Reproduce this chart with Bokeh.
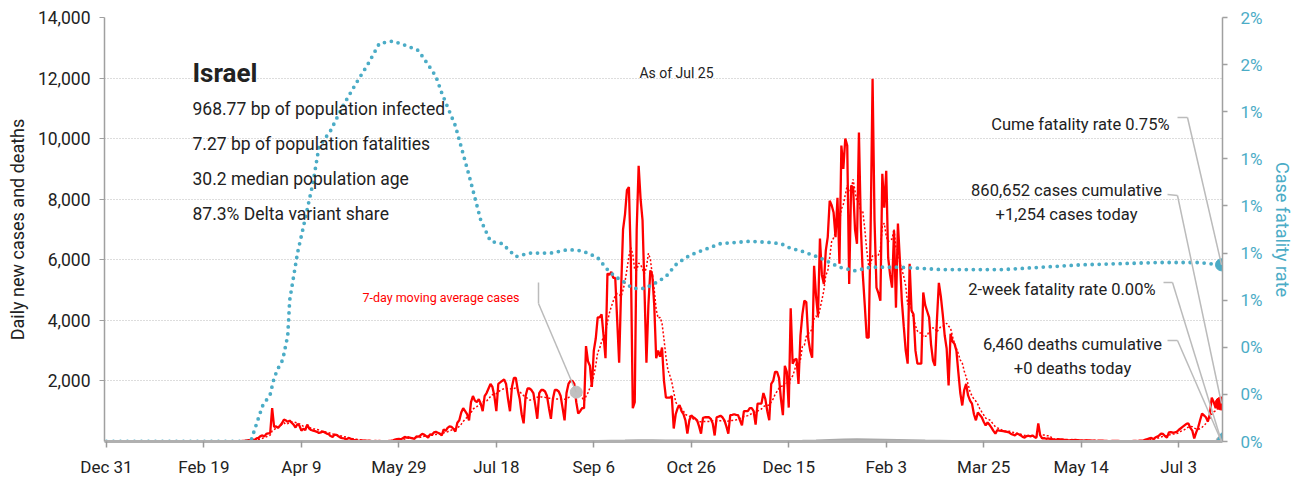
import pandas as pd
from bokeh.plotting import figure
from bokeh.models import Range1d, LinearAxis, FixedTicker, NumeralTickFormatter, Label, Arrow
from bokeh.embed import file_html
from bokeh.resources import INLINE

# ---------------- data ----------------
x_tick_days = [0, 50, 100, 150, 200, 250, 300, 350, 400, 450, 500, 550]
x_tick_labels = ["Dec 31", "Feb 19", "Apr 9", "May 29", "Jul 18", "Sep 6",
                 "Oct 26", "Dec 15", "Feb 3", "Mar 25", "May 14", "Jul 3"]
left_ticks = [2000, 4000, 6000, 8000, 10000, 12000, 14000]
cfr_ticks = [0.0, 0.002, 0.004, 0.006, 0.008, 0.010, 0.012, 0.014, 0.016, 0.018]

# daily new cases, one row per week starting Tue Dec 31 2019
cases_weeks = [
    [0, 0, 0, 0, 0, 0, 0], [0, 0, 0, 0, 0, 0, 0], [0, 0, 0, 0, 0, 0, 0],
    [0, 0, 0, 0, 0, 0, 0], [0, 0, 0, 0, 0, 0, 0], [0, 0, 0, 0, 0, 0, 0],
    [0, 0, 0, 0, 0, 0, 0], [0, 0, 0, 1, 0, 0, 0], [0, 1, 1, 0, 1, 2, 0],
    [3, 3, 2, 4, 5, 10, 9], [20, 25, 35, 45, 40, 60, 50],
    [100, 120, 180, 200, 170, 250, 270], [280, 1100, 480, 500, 450, 520, 600],
    [720, 700, 650, 690, 620, 560, 460], [580, 520, 360, 420, 380, 560, 430],
    [380, 360, 340, 320, 280, 300, 330], [300, 260, 240, 180, 150, 230, 220],
    [170, 130, 110, 100, 70, 110, 100], [70, 40, 50, 30, 20, 40, 30],
    [30, 20, 25, 15, 10, 20, 15], [20, 15, 10, 10, 5, 20, 25],
    [40, 60, 80, 90, 70, 110, 150], [130, 140, 120, 100, 90, 170, 160],
    [200, 250, 230, 180, 130, 240, 220], [300, 320, 290, 260, 200, 400, 350],
    [450, 500, 480, 420, 330, 620, 700], [960, 1100, 1000, 900, 700, 1300, 1500],
    [1350, 1300, 1400, 1250, 1000, 1500, 1600], [1750, 1900, 1800, 1500, 1000, 1900, 1950],
    [2000, 2050, 1900, 1400, 1000, 1800, 2100], [2100, 1700, 1400, 900, 600, 1500, 1750],
    [1750, 1700, 1600, 1200, 750, 1600, 1700], [1700, 1650, 1500, 1100, 750, 1400, 1700],
    [1700, 1650, 1500, 1100, 700, 1600, 1900], [2000, 2000, 1900, 1300, 920, 1000, 1100],
    [1100, 3150, 2650, 2500, 1800, 3000, 3400], [4100, 4100, 4200, 3500, 2750, 5550, 5500],
    [5600, 5400, 5400, 4000, 2600, 5000, 7000], [7500, 8300, 8400, 6000, 1100, 1300, 7000],
    [9100, 8000, 7300, 5000, 2600, 4500, 5650], [5500, 4500, 2750, 3000, 2800, 3100, 2000],
    [1450, 1450, 1450, 1500, 430, 900, 1100], [1200, 1000, 900, 700, 260, 700, 860],
    [800, 760, 700, 500, 260, 780, 800], [800, 800, 750, 600, 200, 800, 820],
    [850, 800, 700, 500, 260, 870, 880], [900, 880, 870, 700, 530, 1000, 1000],
    [1000, 1100, 1100, 1000, 560, 1250, 1250], [1250, 1600, 1400, 1000, 700, 1900, 2000],
    [2300, 2300, 2100, 1400, 870, 2500, 2300], [1120, 4400, 2570, 2700, 2730, 1900, 3500],
    [4200, 4650, 4600, 3400, 3000, 2770, 5800], [4800, 4150, 6700, 5500, 5200, 6300, 6750],
    [7950, 7800, 7560, 6750, 8050, 5870, 9770], [9000, 10000, 9770, 5200, 8450, 8400, 7000],
    [6530, 10200, 7060, 5500, 4500, 3430, 3430], [7000, 11980, 7300, 5080, 4900, 4650, 8840],
    [7720, 8940, 6070, 5500, 5080, 6960, 4420], [7200, 6000, 4650, 3800, 3000, 2570, 5870],
    [4320, 4200, 3000, 2570, 2570, 2570, 4920], [4500, 4300, 4100, 3200, 2670, 2500, 4000],
    [5240, 4800, 4200, 3500, 3070, 1850, 3560], [3300, 3230, 3000, 2280, 1600, 1190, 1700],
    [1900, 1520, 1350, 1250, 900, 700, 960], [880, 800, 650, 530, 630, 550, 460],
    [350, 260, 380, 360, 350, 340, 330], [320, 300, 250, 230, 200, 260, 240],
    [200, 150, 130, 180, 190, 170, 200], [150, 120, 600, 200, 100, 110, 90],
    [100, 90, 80, 60, 40, 80, 70], [70, 60, 55, 50, 30, 50, 45],
    [50, 45, 40, 35, 20, 40, 35], [35, 30, 30, 25, 15, 30, 25],
    [25, 20, 20, 15, 10, 20, 20], [20, 18, 15, 12, 8, 15, 12],
    [15, 12, 20, 18, 10, 25, 30], [40, 60, 80, 100, 120, 80, 130],
    [160, 200, 260, 250, 180, 130, 300], [310, 290, 300, 320, 380, 430, 480],
    [530, 580, 600, 450, 360, 100, 300], [460, 700, 920, 860, 800, 660, 900],
    [1450, 1300, 1100, 1400, 1200, 1254],
]

# cumulative case fatality rate (%), read at these day numbers
cfr_days = [0, 74, 80, 84, 86, 88, 90, 91, 93, 94, 96, 98, 101, 106, 109, 115, 121, 128, 134, 140,
            147, 154, 160, 165, 169, 172, 179, 186, 192, 197, 203, 210, 217, 228, 237, 243, 247, 252, 257, 261,
            265, 270, 276, 281, 287, 292, 297, 302, 315, 330, 340, 346, 351, 356, 366, 376, 384, 392, 407, 428,
            438, 460, 480, 500, 520, 540, 560, 572]
cfr_pct = [0, 0, 0.15, 0.2, 0.27, 0.31, 0.34, 0.37, 0.45, 0.6, 0.7, 0.8, 0.91, 1.10, 1.25, 1.32, 1.42, 1.52, 1.60, 1.69,
           1.70, 1.68, 1.66, 1.60, 1.55, 1.48, 1.34, 1.13, 0.94, 0.85, 0.84, 0.785, 0.80, 0.80, 0.815, 0.81, 0.80, 0.78, 0.73, 0.70,
           0.68, 0.65, 0.65, 0.67, 0.70, 0.75, 0.78, 0.80, 0.84, 0.85, 0.845, 0.84, 0.82, 0.81, 0.78, 0.74, 0.725, 0.74, 0.74, 0.73,
           0.73, 0.73, 0.74, 0.75, 0.755, 0.76, 0.76, 0.75]

# daily deaths, read weekly
death_days = list(range(0, 568, 7)) + [572]
deaths = [0, 0, 0, 0, 0, 0, 0, 0, 0, 0, 0,
          0, 2, 6, 10, 12, 9, 6, 3, 1, 1, 0, 0, 1, 1, 1, 2, 4, 6, 9, 10, 11, 12, 12, 13, 15, 18, 25, 30,
          38, 40, 35, 30, 25, 18, 13, 10, 12, 14, 16, 20, 25, 35, 50, 65, 75, 70, 60, 50, 40, 30, 25, 20,
          15, 10, 7, 5, 4, 3, 2, 1, 1, 1, 1, 1, 0, 0, 1, 1, 1, 1, 1, 0]

country = "Israel"
info_lines = ["968.77 bp of population infected", "7.27 bp of population fatalities",
              "30.2 median population age", "87.3% Delta variant share"]
as_of = "As of Jul 25"
ma_label = "7-day moving average cases"
ma_mark_day = 241
cume_cfr_text = "Cume fatality rate 0.75%"
cases_lines = ["860,652 cases cumulative", "+1,254 cases today"]
two_week_text = "2-week fatality rate 0.00%"
two_week_rate = 0.0
deaths_lines = ["6,460 deaths cumulative", "+0 deaths today"]
deaths_today = 0
y_left_title = "Daily new cases and deaths"
y_right_title = "Case fatality rate"

# ---------------- derived ----------------
cases = [v for wk in cases_weeks for v in wk]
days = list(range(len(cases)))
ma = pd.Series(cases, dtype=float).rolling(7).mean()
cfr = [v / 100.0 for v in cfr_pct]
last_day = days[-1]

FONT = "Roboto"
RED = "#ff0000"
TEAL = "#4bacc6"
GRAY = "#aaaaaa"
TXT = "#222222"

W, H = 1297, 480
FL, FR, FT, FB = 104, 1222, 17, 441   # frame edges in page pixels
p = figure(width=W, height=H, x_range=Range1d(-1, 572.5), y_range=Range1d(0, 14000),
           output_backend="svg", toolbar_location=None,
           min_border_left=FL, min_border_right=W - FR, min_border_top=FT, min_border_bottom=H - FB)
p.outline_line_color = None
p.background_fill_color = "white"
p.extra_y_ranges = {"cfr": Range1d(0, 0.018)}

# axes
xa = p.xaxis[0]
xa.ticker = FixedTicker(ticks=x_tick_days)
xa.major_label_overrides = {d: l for d, l in zip(x_tick_days, x_tick_labels)}
xa.axis_line_color = "#b0b0b0"
xa.axis_line_width = 3
xa.major_tick_line_color = "#999999"
xa.major_tick_line_width = 1.5
xa.major_tick_out = 6
xa.major_tick_in = 0
xa.minor_tick_line_color = None
xa.major_label_standoff = 9
xa.major_label_text_font = FONT
xa.major_label_text_font_size = "17px"
xa.major_label_text_color = TXT

ya = p.yaxis[0]
ya.ticker = FixedTicker(ticks=left_ticks)
ya.formatter = NumeralTickFormatter(format="0,0")
ya.axis_line_color = "#a0a0a0"
ya.axis_line_width = 1.5
ya.major_tick_line_color = "#a0a0a0"
ya.major_tick_out = 5
ya.major_tick_in = 0
ya.minor_tick_line_color = None
ya.major_label_standoff = 9
ya.major_label_text_font = FONT
ya.major_label_text_font_size = "17.5px"
ya.major_label_text_color = TXT
ya.axis_label = y_left_title
ya.axis_label_text_font = FONT
ya.axis_label_text_font_size = "18px"
ya.axis_label_text_font_style = "normal"
ya.axis_label_text_color = TXT
ya.axis_label_standoff = 7

ra = LinearAxis(y_range_name="cfr", ticker=FixedTicker(ticks=cfr_ticks),
                formatter=NumeralTickFormatter(format="0%"))
ra.axis_line_color = "#a0a0a0"
ra.axis_line_width = 1.5
ra.major_tick_line_color = "#a0a0a0"
ra.major_tick_line_width = 1.5
ra.major_tick_out = 5
ra.major_tick_in = 0
ra.minor_tick_line_color = None
ra.major_label_standoff = 13
ra.major_label_text_font = FONT
ra.major_label_text_font_size = "17px"
ra.major_label_text_color = TEAL
ra.axis_label = y_right_title
ra.axis_label_text_font = FONT
ra.axis_label_text_font_size = "18px"
ra.axis_label_text_font_style = "normal"
ra.axis_label_text_color = TEAL
ra.axis_label_standoff = 6
p.add_layout(ra, "right")

p.xgrid.visible = False
p.ygrid.grid_line_color = "#bbbbbb"
p.ygrid.grid_line_dash = "1 2"
p.ygrid.grid_line_width = 1

# series
p.line(days, cases, line_color=RED, line_width=2.3)
p.line(days[6:], list(ma[6:]), line_color=RED, line_width=1.5, line_dash="2 2")
p.line(death_days, deaths, line_color=GRAY, line_width=2)
p.line(cfr_days, cfr, y_range_name="cfr", line_color=TEAL, line_width=3.8,
       line_dash="0 7", line_cap="round")

# end markers
p.scatter([last_day], [cases[-1]], size=13, color=RED)
p.scatter([last_day], [cfr[-1]], size=12, color=TEAL, y_range_name="cfr")
p.scatter([last_day], [deaths_today], size=11, color=GRAY)
p.scatter([last_day], [two_week_rate], size=15, marker="triangle", color=TEAL, y_range_name="cfr")
p.scatter([ma_mark_day], [ma[ma_mark_day]], size=12, color="#c0c0c0")

# ---------------- annotations (screen units are relative to the plot frame) ----------------
def fx(px):
    return px - FL

def fy(py):
    return FB - py

def label(text, px, py, size, color=TXT, align="left", bold=False):
    p.add_layout(Label(x=fx(px), y=fy(py), x_units="screen", y_units="screen", text=text,
                       text_font=FONT, text_font_size=size, text_color=color,
                       text_align=align, text_baseline="alphabetic",
                       text_font_style="bold" if bold else "normal"))

LEAD = "#bbbbbb"

def seg(px0, py0, px1, py1):
    p.add_layout(Arrow(end=None, x_start=fx(px0), y_start=fy(py0), x_end=fx(px1), y_end=fy(py1),
                       start_units="screen", end_units="screen", line_color=LEAD, line_width=1.5))

def seg_to(px0, py0, xd, yd, rng="default"):
    p.add_layout(Arrow(end=None, x_start=fx(px0), y_start=fy(py0), x_end=xd, y_end=yd,
                       start_units="screen", end_units="data", y_range_name=rng,
                       line_color=LEAD, line_width=1.5))

label(country, 192, 72, "26px", bold=True)
for i, t in enumerate(info_lines):
    label(t, 192, 108 + 35.3 * i, "17.5px")
label(as_of, 676, 72, "14px", align="center")

label(ma_label, 519, 297, "12.5px", color=RED, align="right")
seg(538, 282, 538, 303)
seg_to(538, 303, ma_mark_day, ma[ma_mark_day])

label(cume_cfr_text, 1169, 124, "16.5px", align="right")
seg(1177, 117, 1187, 117)
seg_to(1187, 117, last_day, cfr[-1], "cfr")

label(cases_lines[0], 1066, 190, "16.5px", align="center")
label(cases_lines[1], 1066, 214, "16.5px", align="center")
seg(1167, 194, 1177, 195)
seg_to(1177, 195, last_day, cases[-1])

label(two_week_text, 1155, 289, "16.5px", align="right")
seg(1163, 282, 1172, 282)
seg_to(1172, 282, last_day, two_week_rate, "cfr")

label(deaths_lines[0], 1072, 344, "16.5px", align="center")
label(deaths_lines[1], 1072, 368, "16.5px", align="center")
seg(1167, 340, 1177, 340)
seg_to(1177, 340, last_day, deaths_today)

open("out.html", "w").write(file_html(p, INLINE))
